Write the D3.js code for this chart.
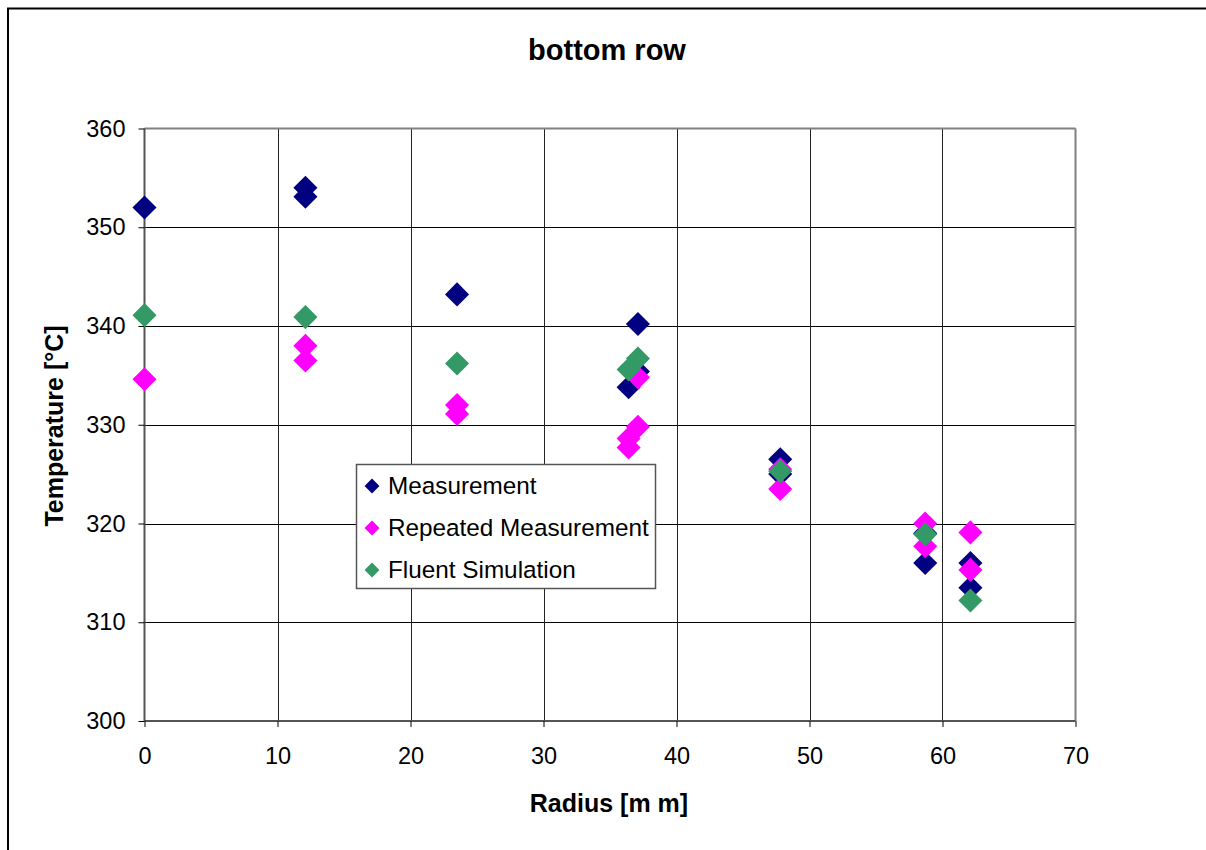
<!DOCTYPE html>
<html>
<head>
<meta charset="utf-8">
<script src="https://cdn.jsdelivr.net/npm/d3@7"></script>
<style>
  html, body { margin: 0; padding: 0; background: #fff; }
  svg { display: block; font-family: Arial, "Liberation Sans", sans-serif; }
</style>
</head>
<body>
<svg id="chart" width="1206" height="850"></svg>
<script>
// ---- data ----
const seriesNames = ["Measurement", "Repeated Measurement", "Fluent Simulation"];
const seriesColors = ["#000080", "#FF00FF", "#339966"];

const measurementR = [0, 12.1, 12.1, 23.5, 37.1, 37.1, 36.4, 47.8, 47.8, 58.7, 58.7, 62.1, 62.1];
const measurementT = [352.0, 354.0, 353.1, 343.2, 340.2, 335.4, 333.8, 326.5, 325.0, 319.0, 316.0, 316.0, 313.5];

const repeatedR = [0, 12.1, 12.1, 23.5, 23.5, 37.1, 37.1, 36.4, 36.4, 47.8, 47.8, 58.7, 58.7, 62.1, 62.1];
const repeatedT = [334.6, 338.0, 336.5, 332.0, 331.1, 334.8, 329.8, 328.6, 327.7, 325.5, 323.5, 320.0, 317.7, 319.1, 315.3];

const fluentR = [0, 12.1, 23.5, 37.1, 36.4, 47.8, 58.7, 62.1];
const fluentT = [341.1, 340.9, 336.2, 336.7, 335.6, 325.3, 318.9, 312.2];

const xTicks = [0, 10, 20, 30, 40, 50, 60, 70];
const yTicks = [300, 310, 320, 330, 340, 350, 360];

const titleText = "bottom row";
const xTitle = "Radius [m m]";
const yTitle = "Temperature [°C]";

// ---- layout ----
const svg = d3.select("#chart");
const pL = 144.5, pR = 1075.5, pT = 128.5, pB = 721;
const x = d3.scaleLinear().domain([0, 70]).range([pL, pR]);
const y = d3.scaleLinear().domain([300, 360]).range([pB, pT]);

// outer frame
svg.append("path").attr("d", "M8,850 L8,8.5 L1206,8.5").attr("fill", "none")
  .attr("stroke", "#000").attr("stroke-width", 2);

// grid
const g = svg.append("g");
g.selectAll(".hg").data(yTicks.filter(v => v > 300 && v < 360)).join("line")
  .attr("x1", pL).attr("x2", pR).attr("y1", d => Math.round(y(d)) + 0.5).attr("y2", d => Math.round(y(d)) + 0.5)
  .attr("stroke", "#000").attr("stroke-width", 1);
g.selectAll(".vg").data(xTicks.filter(v => v > 0 && v < 70)).join("line")
  .attr("y1", pT).attr("y2", pB).attr("x1", d => Math.round(x(d)) + 0.5).attr("x2", d => Math.round(x(d)) + 0.5)
  .attr("stroke", "#222").attr("stroke-width", 1);

// plot border (top & right gray)
g.append("line").attr("x1", pL).attr("x2", pR).attr("y1", pT).attr("y2", pT).attr("stroke", "#808080").attr("stroke-width", 2);
g.append("line").attr("x1", pR).attr("x2", pR).attr("y1", pT).attr("y2", pB).attr("stroke", "#808080").attr("stroke-width", 2);

// axes via d3
const xAxis = d3.axisBottom(x).tickValues(xTicks).tickSize(6).tickPadding(20).tickFormat(d3.format("d"));
const yAxis = d3.axisLeft(y).tickValues(yTicks).tickSize(6).tickPadding(13).tickFormat(d3.format("d"));

const gx = svg.append("g").attr("transform", `translate(0,${pB})`).call(xAxis);
const gy = svg.append("g").attr("transform", `translate(${pL},0)`).call(yAxis);
[gx, gy].forEach(a => {
  a.select(".domain").attr("stroke", "#555").attr("stroke-width", 2);
  a.selectAll(".tick line").attr("stroke", "#000").attr("stroke-width", 1);
  a.selectAll("text").attr("fill", "#000").attr("font-size", 23.5)
    .attr("font-family", "Arial, 'Liberation Sans', sans-serif");
});
gx.select(".domain").attr("d", `M${pL},0H${pR}`);
gy.select(".domain").attr("d", `M0,${pB}V${pT}`);
gx.selectAll(".tick text").attr("dy", "0.71em");

// markers
const diamond = d3.symbol().type(d3.symbolSquare).size(290);
function drawSeries(rs, ts, color) {
  svg.append("g").selectAll("path").data(rs.map((r, i) => [r, ts[i]])).join("path")
    .attr("d", diamond)
    .attr("transform", d => `translate(${x(d[0])},${y(d[1])}) rotate(45)`)
    .attr("fill", color);
}
drawSeries(measurementR, measurementT, seriesColors[0]);
drawSeries(repeatedR, repeatedT, seriesColors[1]);
drawSeries(fluentR, fluentT, seriesColors[2]);

// titles
svg.append("text").attr("x", 607).attr("y", 60).attr("text-anchor", "middle")
  .attr("font-size", 29).attr("font-weight", "bold").text(titleText);
svg.append("text").attr("x", 609).attr("y", 812).attr("text-anchor", "middle")
  .attr("font-size", 25).attr("font-weight", "bold").text(xTitle);
svg.append("text").attr("transform", "translate(63,426) rotate(-90)").attr("text-anchor", "middle")
  .attr("font-size", 25).attr("font-weight", "bold").text(yTitle);

// legend
const lg = svg.append("g");
lg.append("rect").attr("x", 356.5).attr("y", 464.5).attr("width", 299).attr("height", 124)
  .attr("fill", "#fff").attr("stroke", "#555").attr("stroke-width", 1.5);
const legendDiamond = d3.symbol().type(d3.symbolSquare).size(110);
seriesNames.forEach((name, i) => {
  const cy = 486 + i * 42;
  lg.append("path").attr("d", legendDiamond).attr("transform", `translate(372,${cy}) rotate(45)`)
    .attr("fill", seriesColors[i]);
  lg.append("text").attr("x", 388).attr("y", cy + 8).attr("font-size", 24.3).text(name);
});
</script>
</body>
</html>
